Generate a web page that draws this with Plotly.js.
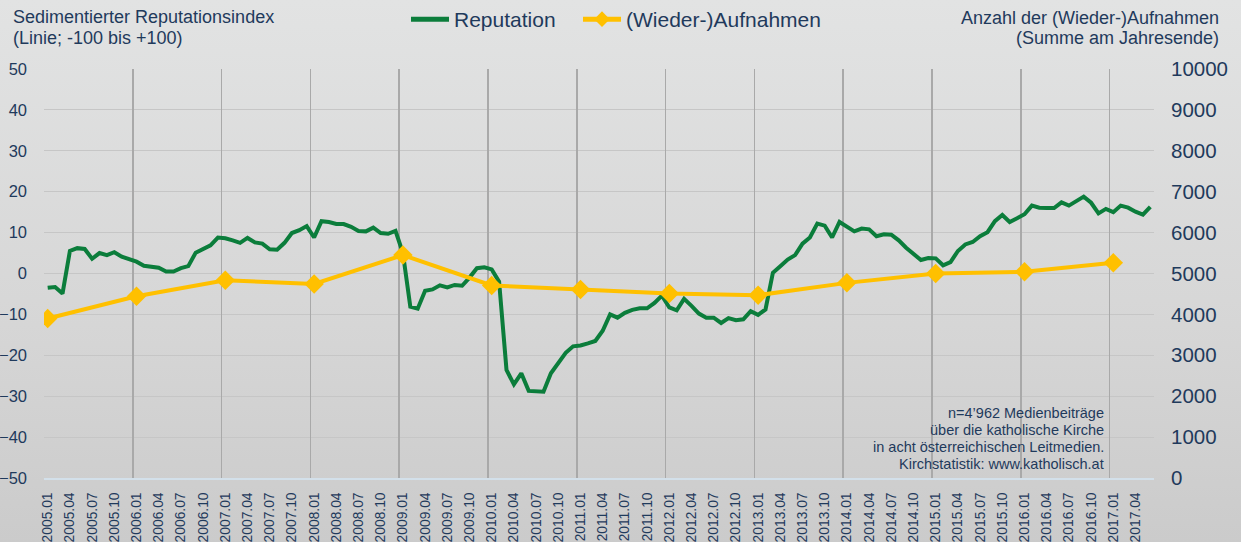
<!DOCTYPE html>
<html>
<head>
<meta charset="utf-8">
<script src="https://cdn.plot.ly/plotly-3.0.1.min.js"></script>
<style>
  html, body { margin: 0; padding: 0; }
  body { width: 1241px; height: 542px; background: linear-gradient(to bottom, #e2e3e3 0%, #d6d6d6 60%, #cbcbcb 100%); overflow: hidden; }
  #chart { width: 1241px; height: 542px; }
</style>
</head>
<body>
<div id="chart"></div>
<script>
// ---- DATA ----
const years = [2005, 2006, 2007, 2008, 2009, 2010, 2011, 2012, 2013, 2014, 2015, 2016, 2017];
const monthCodes = ["01","02","03","04","05","06","07","08","09","10","11","12"];
// monthly categories 2005.01 .. 2017.06
const months = [];
years.forEach(y => monthCodes.forEach(m => { if (!(y === 2017 && +m > 6)) months.push(y + "." + m); }));

// Sedimentierter Reputationsindex (monthly)
const reputation = [
  -3.5, -3.3, -4.9, 5.5, 6.2, 6.0, 3.6, 5.0, 4.5, 5.2, 4.1, 3.6,      // 2005
  2.9, 1.9, 1.6, 1.4, 0.5, 0.5, 1.3, 1.8, 5.1, 5.9, 6.9, 8.8,         // 2006
  8.6, 8.1, 7.5, 8.7, 7.6, 7.3, 5.9, 5.8, 7.5, 9.9, 10.6, 11.6,       // 2007
  8.8, 12.8, 12.6, 12.1, 12.1, 11.4, 10.4, 10.3, 11.2, 9.9, 9.7, 10.4, // 2008
  5.0, -8.1, -8.6, -4.2, -3.9, -2.9, -3.4, -2.8, -3.0, -1.0, 1.3, 1.5, // 2009
  1.0, -2.0, -23.6, -27.1, -24.4, -28.7, -28.8, -28.9, -24.4, -21.8, -19.4, -17.8, // 2010
  -17.6, -17.1, -16.5, -14.0, -10.0, -10.8, -9.6, -8.9, -8.5, -8.5, -7.2, -5.4,    // 2011
  -8.3, -9.0, -6.2, -7.9, -9.8, -10.8, -10.8, -12.1, -10.9, -11.4, -11.2, -9.2,    // 2012
  -10.1, -8.8, 0.2, 1.8, 3.4, 4.5, 7.3, 8.8, 12.2, 11.7, 8.8, 12.6,   // 2013
  11.3, 10.3, 11.0, 10.8, 9.1, 9.6, 9.5, 8.1, 6.3, 4.9, 3.3, 3.8,     // 2014
  3.7, 2.0, 2.8, 5.5, 7.1, 7.7, 9.1, 10.1, 12.8, 14.3, 12.6, 13.5,    // 2015
  14.5, 16.6, 16.1, 16.0, 16.0, 17.4, 16.6, 17.7, 18.8, 17.3, 14.7, 15.8, // 2016
  15.0, 16.6, 16.1, 15.1, 14.4, 16.3                                  // 2017
];

// (Wieder-)Aufnahmen, annual sums plotted at January
const admissionDates = ["2005.01","2006.01","2007.01","2008.01","2009.01","2010.01","2011.01","2012.01","2013.01","2014.01","2015.01","2016.01","2017.01"];
const admissions = [3900, 4445, 4837, 4745, 5450, 4707, 4610, 4512, 4470, 4771, 5001, 5040, 5261];

// tick labels every 3 months
const tickLabels = months.filter((m, i) => i % 3 === 0);

// ---- LAYOUT HELPERS ----
const W = 1241, H = 542;
const M = { l: 44, r: 87, t: 69, b: 64, autoexpand: false };
const PW = W - M.l - M.r, PH = H - M.t - M.b;
const px2x = px => (px - M.l) / PW;
const py2y = py => (H - M.b - py) / PH;

const navy = "#1f3a5c";
const font = "Liberation Sans, Arial, sans-serif";

const traces = [
  { type: "scatter", mode: "lines", name: "Reputation", x: months, y: reputation,
    xaxis: "x", yaxis: "y", legend: "legend",
    line: { color: "#0b7d3b", width: 4 }, hoverinfo: "x+y" },
  { type: "scatter", mode: "lines+markers", name: "(Wieder-)Aufnahmen", x: admissionDates, y: admissions,
    xaxis: "x", yaxis: "y2", legend: "legend2",
    line: { color: "#ffc000", width: 4 },
    marker: { symbol: "diamond", size: 15, color: "#ffc000" }, hoverinfo: "x+y" },
  { type: "scatter", mode: "lines", x: [], y: [], xaxis: "x2", yaxis: "y", showlegend: false, hoverinfo: "skip" }
];

function ann(text, px, py, anchor, size) {
  return { text: text, xref: "paper", yref: "paper", x: px2x(px), y: py2y(py),
    xanchor: anchor, yanchor: "middle", showarrow: false,
    font: { family: font, size: size, color: navy } };
}

function legendAt(px) {
  return {
    orientation: "h", xref: "paper", yref: "paper",
    x: px2x(px), y: py2y(-1), xanchor: "left", yanchor: "top",
    font: { family: font, size: 21, color: navy },
    bgcolor: "rgba(0,0,0,0)", itemsizing: "constant", itemwidth: 38
  };
}

const layout = {
  width: W, height: H,
  margin: M,
  paper_bgcolor: "rgba(0,0,0,0)",
  plot_bgcolor: "rgba(0,0,0,0)",
  font: { family: font, color: navy },
  showlegend: true,
  legend: legendAt(406),
  legend2: legendAt(578),
  xaxis: {
    type: "category", categoryorder: "array", categoryarray: months,
    range: [-0.5, months.length - 0.5],
    tickmode: "array", tickvals: tickLabels, ticktext: tickLabels,
    tickangle: -90, ticks: "", ticklabelstandoff: 7,
    tickfont: { family: font, size: 13.8, color: navy },
    showgrid: false, zeroline: false,
    showline: true, linecolor: "#d3e0ea", linewidth: 2, fixedrange: true
  },
  xaxis2: {
    overlaying: "x", type: "linear", range: [-0.5, months.length - 0.5],
    tick0: -0.5, dtick: 12, showticklabels: false, ticks: "",
    showgrid: true, gridcolor: "#a9a9a9", gridwidth: 1.5, zeroline: false, showline: false
  },
  yaxis: {
    range: [-50, 50], dtick: 10, tick0: 0, ticks: "", ticklabelstandoff: 16,
    tickfont: { family: font, size: 16.5, color: navy },
    showgrid: true, gridcolor: "#c6c6c6", gridwidth: 1, zeroline: false, showline: false
  },
  yaxis2: {
    overlaying: "y", side: "right", range: [0, 10000], dtick: 1000, tick0: 0,
    tickformat: "d",
    ticks: "", ticklabelstandoff: 16,
    tickfont: { family: font, size: 20.5, color: navy },
    showgrid: false, zeroline: false, showline: false
  },
  annotations: [
    ann("Sedimentierter Reputationsindex", 11, 17, "left", 18),
    ann("(Linie; -100 bis +100)", 11, 38, "left", 18),
    ann("Anzahl der (Wieder-)Aufnahmen", 1221, 18, "right", 18),
    ann("(Summe am Jahresende)", 1221, 38, "right", 18),
    ann("n=4’962 Medienbeiträge", 1106, 413, "right", 14.5),
    ann("über die katholische Kirche", 1106, 430, "right", 14.5),
    ann("in acht österreichischen Leitmedien.", 1106, 447, "right", 14.5),
    ann("Kirchstatistik: www.katholisch.at", 1106, 464, "right", 14.5)
  ]
};

Plotly.newPlot("chart", traces, layout, { displayModeBar: false, staticPlot: true });
</script>
</body>
</html>
